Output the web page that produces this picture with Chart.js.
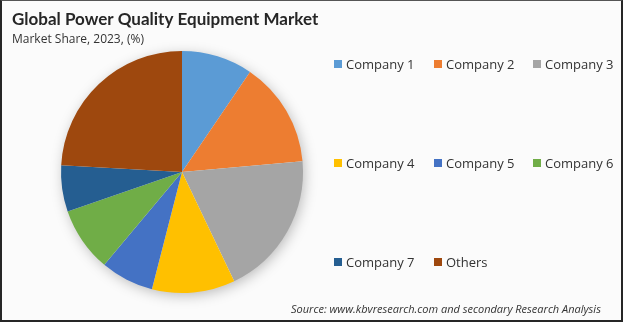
<!DOCTYPE html>
<html>
<head>
<meta charset="utf-8">
<script src="https://cdn.jsdelivr.net/npm/chart.js@4.4.1/dist/chart.umd.min.js"></script>
<style>
  html, body { margin: 0; padding: 0; background: #fff; }
  #wrap { position: relative; width: 623px; height: 322px; box-sizing: border-box;
          border: 2px solid #262626; border-top: 1px solid #555; background: #fbfbfb; }
  canvas { display: block; }
</style>
</head>
<body>
<div id="wrap"><canvas id="myChart" width="619" height="319"></canvas></div>
<script>
"use strict";

var title = 'Global Power Quality Equipment Market';
var subtitle = 'Market Share, 2023, (%)';
var source = 'Source: www.kbvresearch.com and secondary Research Analysis';

var labels = ['Company 1', 'Company 2', 'Company 3', 'Company 4', 'Company 5', 'Company 6', 'Company 7', 'Others'];
var shares = [9.5, 14.1, 19.3, 11.1, 7.1, 8.6, 6.2, 24.1];
var colors = ['#5B9BD5', '#ED7D31', '#A5A5A5', '#FFC000', '#4472C4', '#70AD47', '#255E91', '#9E480E'];

// soft shadow under the pie + title, legend and source text
var decor = {
    id: 'decor',
    beforeDatasetsDraw: function (chart) {
        var arc = chart.getDatasetMeta(0).data[0];
        if (!arc) return;
        var ctx = chart.ctx;
        ctx.save();
        ctx.shadowColor = 'rgba(0,0,0,0.28)';
        ctx.shadowBlur = 14;
        ctx.shadowOffsetX = 2;
        ctx.shadowOffsetY = 3;
        ctx.fillStyle = '#fbfbfb';
        ctx.beginPath();
        ctx.arc(arc.x, arc.y, arc.outerRadius - 1, 0, Math.PI * 2);
        ctx.fill();
        ctx.restore();
    },
    afterDraw: function (chart) {
        var ctx = chart.ctx;
        ctx.save();
        ctx.textBaseline = 'alphabetic';
        ctx.fillStyle = '#262626';
        ctx.font = 'bold 17px Lato';
        ctx.fillText(title, 10, 24);
        ctx.font = '12px "Open Sans"';
        ctx.fillStyle = '#333';
        ctx.fillText(subtitle, 10, 42);

        // legend: 3 columns, rows spaced out
        ctx.font = '13px "Open Sans"';
        ctx.textBaseline = 'middle';
        var colX = [332, 432, 531];
        var rowY = [63, 162, 261];
        labels.forEach(function (lab, i) {
            var x = colX[i % 3], y = rowY[Math.floor(i / 3)];
            ctx.fillStyle = colors[i];
            ctx.fillRect(x, y - 4, 8, 8);
            ctx.fillStyle = '#333';
            ctx.fillText(lab, x + 12, y + 1);
        });

        ctx.font = 'italic 11px "Open Sans"';
        ctx.textBaseline = 'alphabetic';
        ctx.fillStyle = '#333';
        ctx.fillText(source, 289, 312);
        ctx.restore();
    }
};

var ctx = document.getElementById('myChart').getContext('2d');
var chart = new Chart(ctx, {
    type: 'pie',
    data: {
        labels: labels,
        datasets: [{
            data: shares,
            backgroundColor: colors,
            borderWidth: 0
        }]
    },
    options: {
        responsive: false,
        animation: false,
        layout: {
            padding: { left: 59, right: 318, top: 50, bottom: 27 }
        },
        plugins: {
            legend: { display: false },
            tooltip: { enabled: false }
        }
    },
    plugins: [decor]
});
</script>
</body>
</html>
